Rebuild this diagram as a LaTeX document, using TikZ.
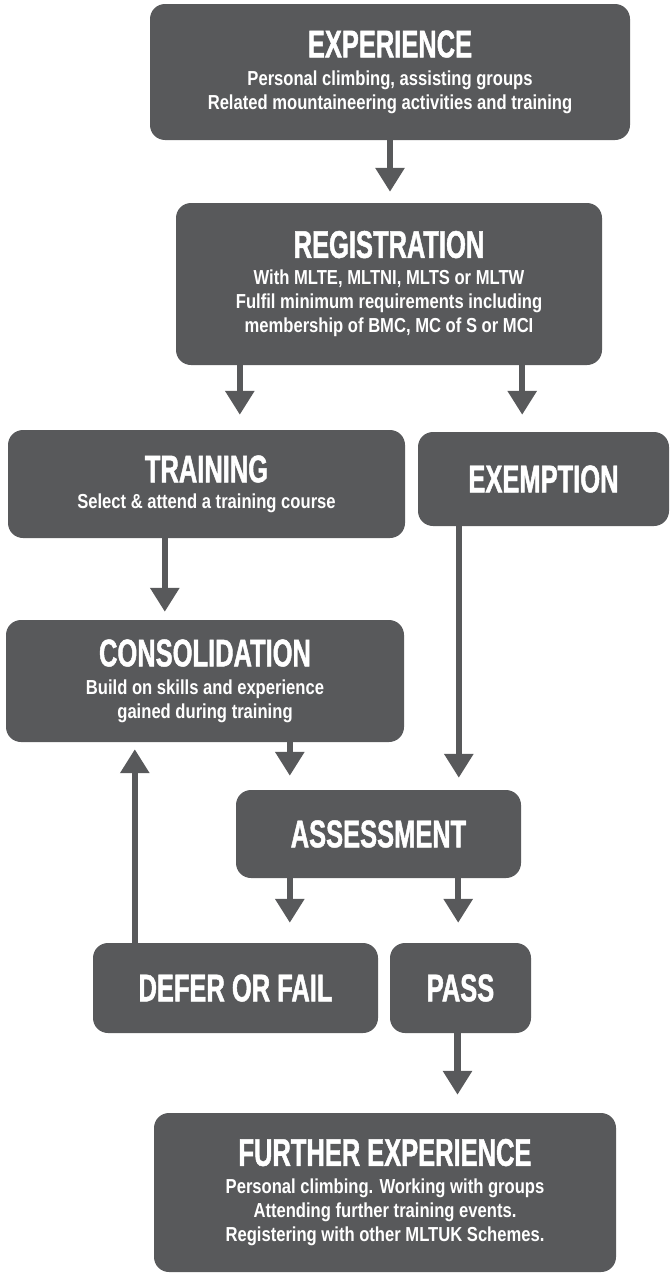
\documentclass[tikz,border=0pt]{standalone}
\usepackage{fontspec}
\setmainfont[FakeStretch=0.82]{Liberation Sans}
\newfontfamily\headfont[FakeStretch=0.66,FakeBold=1.2]{Liberation Sans}
\usetikzlibrary{arrows.meta}
\definecolor{boxgrey}{HTML}{58595B}
\tikzset{
  box/.style={fill=boxgrey, rounded corners=15pt, text=white, align=center,
    font=\bfseries\fontsize{20.25}{24}\selectfont, inner sep=0pt},
  flow/.style={draw=boxgrey, line width=6.5pt, -{Triangle[width=28pt,length=24pt]}},
}
\newcommand{\head}[1]{{\headfont\bfseries\fontsize{38.6}{40}\selectfont #1}}
\begin{document}
\begin{tikzpicture}[x=1pt,y=-1pt]
            \useasboundingbox (0,0) rectangle (670,1274);
            \node[box, minimum width=480pt, minimum height=136pt] (exper) at (390,72)
                {\head{EXPERIENCE}\\[4pt] Personal climbing, assisting groups\\ Related mountaineering activities and training};
            \node[box, minimum width=426pt, minimum height=162pt] (regis) at (389,284)
                {\head{REGISTRATION}\\[3pt] With MLTE, MLTNI, MLTS or MLTW\\ Fulfil minimum requirements including\\ membership of BMC, MC of S or MCI};
            \node[box, minimum width=397pt, minimum height=108pt] (train) at (206.5,484)
                {\head{TRAINING}\\[2pt] Select \& attend a training course};
            \node[box, minimum width=251pt, minimum height=94pt] (exempt) at (543.5,479)
                {\head{EXEMPTION}};
            \node[box, minimum width=398pt, minimum height=122pt] (consol) at (205,681)
                {\head{CONSOLIDATION}\\[4pt] Build on skills and experience\\ gained during training};
            \node[box, minimum width=285pt, minimum height=88pt] (assess) at (378.5,834)
                {\head{ASSESSMENT}};
            \node[box, minimum width=285pt, minimum height=90pt] (defer) at (235.5,988)
                {\head{DEFER OR FAIL}};
            \node[box, minimum width=141pt, minimum height=90pt] (pass) at (460.5,988)
                {\head{PASS}};
            \node[box, minimum width=462pt, minimum height=159pt] (further) at (385,1192.5)
                {\head{FURTHER EXPERIENCE}\\[4pt] Personal climbing. Working with groups\\ Attending further training events.\\ Registering with other MLTUK Schemes.};
            \coordinate (r1) at ([xshift=64pt]regis.south west);
            \coordinate (r2) at ([xshift=-80pt]regis.south east);
            \coordinate (t1) at ([xshift=157pt]train.south west);
            \coordinate (e1) at ([xshift=41pt]exempt.south west);
            \coordinate (c1) at ([xshift=284pt]consol.south west);
            \coordinate (a1) at ([xshift=54pt]assess.south west);
            \coordinate (a2) at ([xshift=-63pt]assess.south east);
            \coordinate (d1) at ([xshift=42pt]defer.north west);
            \coordinate (p1) at ([xshift=-3pt]pass.south);
            \draw[flow, shorten >=11pt] (exper.south) -- (exper.south |- regis.north);
            \draw[flow, shorten >=15pt] (r1) -- (r1 |- train.north);
            \draw[flow, shorten >=17pt] (r2) -- (r2 |- exempt.north);
            \draw[flow, shorten >=8pt] (t1) -- (t1 |- consol.north);
            \draw[flow, shorten >=12pt] (e1) -- (e1 |- assess.north);
            \draw[flow, shorten >=14pt] (c1) -- (c1 |- assess.north);
            \draw[flow, shorten >=20pt] (a1) -- (a1 |- defer.north);
            \draw[flow, shorten >=20pt] (a2) -- (a2 |- pass.north);
            \draw[flow, shorten >=7pt] (d1) -- (d1 |- consol.south);
            \draw[flow, shorten >=18pt] (p1) -- (p1 |- further.north);
        \end{tikzpicture}
\end{document}
